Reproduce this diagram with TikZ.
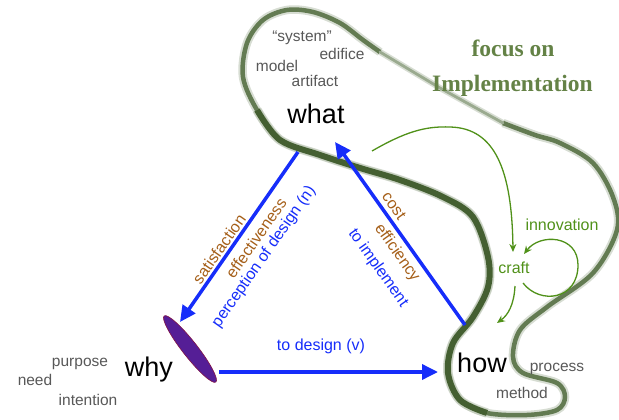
\documentclass[tikz,border=0pt]{standalone}
\usepackage{fontspec}
\setmainfont{Liberation Sans}
\newfontfamily\serifbold{Liberation Serif}
\usetikzlibrary{arrows.meta,shapes.geometric}
\definecolor{arrblue}{RGB}{22,45,250}
\definecolor{brownlab}{RGB}{165,95,25}
\definecolor{graytxt}{RGB}{88,88,88}
\definecolor{greenarr}{RGB}{80,145,25}
\definecolor{titlegreen}{RGB}{100,130,70}
\definecolor{loopgreen}{RGB}{72,100,52}
\definecolor{purplefill}{RGB}{85,30,150}
\definecolor{purpleedge}{RGB}{130,20,70}
\begin{document}
\begin{tikzpicture}[x=1pt,y=-1pt,
  bigword/.style={font=\fontsize{27}{30}\selectfont, text=black, anchor=base, inner sep=0pt},
  grayword/.style={font=\fontsize{15.5}{18}\selectfont, text=graytxt, anchor=base, inner sep=0pt},
  lab/.style={font=\fontsize{16}{18}\selectfont, inner sep=0pt},
  bluelab/.style={lab, text=arrblue},
  brownlabel/.style={lab, text=brownlab},
  greenlab/.style={font=\fontsize{16}{18}\selectfont, text=greenarr, anchor=base, inner sep=0pt},
  titlelab/.style={font=\serifbold\bfseries\fontsize{23.5}{26}\selectfont, text=titlegreen, anchor=base, inner sep=0pt},
  bluearrow/.style={draw=arrblue, line width=3.5pt, -{Triangle[length=16pt,width=15pt]}},
  greenarrow/.style={draw=greenarr, line width=1.3pt, -{Stealth[length=8pt,width=7pt]}},
  loophalo/.style={loopgreen!40, opacity=0.55},
  loopcore/.style={loopgreen!85}
]
\useasboundingbox (0,0) rectangle (619,420);

% the green implementation loop (open path + thin diagonal closing it)
\def\mainpath{plot[smooth, tension=0.55] coordinates {
 (503,123) (535,135)
 (560,143) (593,163) (613,197) (617,230) (593,273) (547,307) (520,330)
 (513,357) (523,373) (557,383) (565,397) (557,410) (527,415) (487,413)
 (460,400) (448,373) (453,343) (473,317) (488,287) (488,257) (473,217)
 (443,197) (400,180) (360,168) (320,155) (280,140) (257,110) (243,77)
 (247,43) (263,20) (287,10) (313,12) (340,23) (363,40) (380,52)}}
\def\innerpath{plot[smooth, tension=0.55] coordinates {
 (257,110) (280,140) (320,155) (360,168) (400,180) (443,197) (473,217)
 (488,257) (488,287) (473,317) (453,343) (448,373) (460,400) (487,413)}}
\coordinate (diagA) at (380,52);
\coordinate (diagM) at (440,88);
\coordinate (diagB) at (503,123);
\draw[loophalo, line width=6pt, line cap=round] (diagA) -- (diagM) -- (diagB);
\draw[loophalo, line width=8.5pt] \mainpath;
\draw[loopcore, line width=4.5pt] \mainpath;
\draw[loopgreen!55, line width=2.8pt, line cap=round] (diagA) -- (diagM) -- (diagB);
\draw[loophalo, line width=9.5pt] \innerpath;
\draw[loopgreen!95!black, line width=6pt] \innerpath;

% words
\node[bigword] (what) at (316,123) {what};
\node[bigword] (why) at (149,376) {why};
\node[bigword] (how) at (482,372) {how};

\node[grayword] (system) at (302,42) {“system”};
\node[grayword] (edifice) at (342,60) {edifice};
\node[grayword] (model) at (277,72) {model};
\node[grayword] (artifact) at (315,87) {artifact};
\node[grayword] (purpose) at (80,366) {purpose};
\node[grayword] (need) at (35,385) {need};
\node[grayword] (intention) at (88,405) {intention};
\node[grayword] (process) at (557,371) {process};
\node[grayword] (method) at (522,398) {method};

\node[titlelab] (focus) at (513,57) {focus on};
\node[titlelab] (impl) at (512.5,92) {Implementation};

\node[greenlab] (innov) at (562,230) {innovation};
\node[greenlab] (craft) at (514,273) {craft};

% purple ellipse at why
\node[ellipse, draw=purpleedge, fill=purplefill, line width=0.6pt,
      minimum width=84pt, minimum height=15pt, inner sep=0pt, rotate=-52]
      (whyell) at (190,349) {};

% blue arrows
\coordinate (whatA) at (298,152);
\coordinate (whyA) at (180,322);
\coordinate (whyB) at (219,372);
\coordinate (howB) at (438,372);
\coordinate (howC) at (465,325);
\coordinate (whatC) at (335,142);
\draw[bluearrow] (whatA) -- (whyA);
\draw[bluearrow] (whyB) -- (howB);
\draw[bluearrow] (howC) -- (whatC);

% arrow labels
\node[brownlabel, rotate=55] (satis) at (219,249) {satisfaction};
\node[brownlabel, rotate=55] (effect) at (256,238) {effectiveness};
\node[bluelab, rotate=55] (percep) at (264,257) {perception of design (n)};
\node[bluelab, anchor=base] (todesign) at (321,350) {to design (v)};
\node[brownlabel, rotate=-54.6] (cost) at (394,206) {cost};
\node[brownlabel, rotate=-54.6] (effic) at (397,253) {efficiency};
\node[bluelab, rotate=-54.6] (toimpl) at (378,268) {to implement};

% green arrows
\coordinate (gstart) at (372,151);
\coordinate (gtip) at (513,252);
\draw[greenarrow] (gstart) .. controls (405,132) and (425,126) .. (450,127)
   .. controls (495,128) and (512,170) .. (gtip);
\coordinate (loopS) at (523,283);
\coordinate (loopE) at (524,254);
\draw[greenarrow] (loopS) .. controls (540,305) and (578,300) .. (578,265)
   .. controls (578,235) and (540,233) .. (loopE);
\coordinate (downS) at (515,286);
\coordinate (downE) at (497,323);
\draw[greenarrow] (downS) .. controls (514,305) and (508,315) .. (downE);
\end{tikzpicture}
\end{document}
